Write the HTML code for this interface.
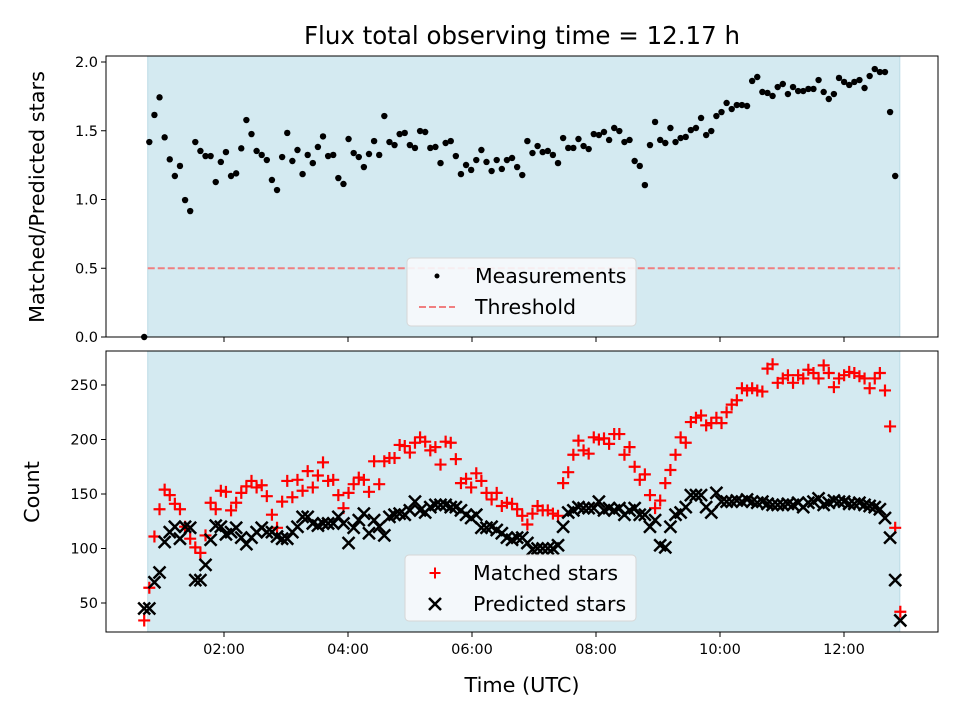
<!DOCTYPE html>
<html><head><meta charset="utf-8"><style>
body{margin:0;background:#fff;}
svg{display:block;font-family:"DejaVu Sans","Liberation Sans",sans-serif;}
</style></head><body>
<svg id="chart" width="960" height="720" viewBox="0 0 960 720" xmlns="http://www.w3.org/2000/svg">
<text x="522" y="44" font-size="24.5" text-anchor="middle">Flux total observing time = 12.17 h</text>
<g id="top"></g>
<g id="bot"></g>
<text transform="translate(44,197) rotate(-90)" font-size="20.8" text-anchor="middle">Matched/Predicted stars</text>
<text transform="translate(39,492) rotate(-90)" font-size="20.8" text-anchor="middle">Count</text>
<text x="522" y="692" font-size="20.8" text-anchor="middle">Time (UTC)</text>
</svg>
<script>
const tStart = 0.713;
const tStep = 0.0824;
const obsStart = 0.77;
const obsEnd = 12.9;
const threshold = 0.5;
const ratioValues = [0,1.418,1.615,1.743,1.452,1.292,1.171,1.244,0.996,0.916,1.418,
1.353,1.316,1.316,1.127,1.273,1.345,1.171,1.190,1.372,1.578,
1.476,1.353,1.324,1.287,1.142,1.069,1.309,1.484,1.280,1.360,
1.185,1.324,1.265,1.382,1.459,1.316,1.324,1.156,1.113,1.440,
1.338,1.309,1.236,1.331,1.425,1.324,1.607,1.418,1.396,1.476,
1.484,1.396,1.375,1.498,1.491,1.375,1.382,1.265,1.411,1.425,
1.316,1.185,1.251,1.215,1.287,1.360,1.273,1.207,1.287,1.222,
1.287,1.302,1.236,1.178,1.425,1.338,1.389,1.345,
1.353,1.324,1.265,1.447,1.375,1.375,1.440,1.389,1.367,1.476,
1.469,1.491,1.433,1.520,1.498,1.418,1.433,1.280,1.244,1.105,
1.396,1.564,1.433,1.411,1.520,1.418,1.447,1.455,1.505,1.520,
1.593,1.469,1.498,1.607,1.636,1.702,1.658,1.687,1.687,1.680,
1.862,1.891,1.782,1.775,1.753,1.818,1.840,1.767,1.818,1.789,
1.789,1.804,1.804,1.869,1.782,1.731,1.767,1.884,1.855,1.833,
1.855,1.869,1.811,1.898,1.949,1.927,1.927,1.636,1.171];
const matchedValues = [34,64,111,136,154,149,141,136,120,109,
101,96,112,142,136,153,152,135,142,151,
157,162,156,158,148,131,119,143,162,147,
163,153,171,156,167,179,162,163,149,137,
151,159,165,163,152,180,159,180,183,183,
195,194,188,197,202,198,190,193,177,198,
197,182,160,164,156,169,162,151,145,151,
139,142,141,136,130,122,132,139,135,135,
132,130,160,170,186,199,190,187,202,200,
201,196,205,205,186,193,175,163,168,149,
137,144,160,172,186,202,197,216,220,222,
213,215,220,215,225,232,236,247,
245,247,245,244,265,269,252,256,259,252,259,256,264,261,256,268,261,248,256,259,262,261,258,256,
247,256,261,245,212,119,42];
const predictedValues = [45,45,69,78,106,115,120,109,120,119,
71,71,85,108,121,120,113,115,119,110,
104,110,115,119,115,115,111,109,109,115,
120,129,129,123,121,123,123,123,129,123,
105,119,126,132,114,126,120,112,129,131,
132,131,135,143,135,133,138,140,140,140,
138,138,135,131,128,131,119,119,120,117,
114,110,108,110,110,105,99,100,100,100,
100,103,120,133,135,138,137,137,137,143,
135,137,135,137,131,135,137,131,131,120,
126,103,101,120,131,133,138,149,149,149,
138,133,151,143,143,143,144,143,
145,143,142,143,141,140,140,140,141,140,142,138,142,143,146,140,142,144,143,143,141,141,142,140,139,138,136,
128,110,71,34];
const xTickHours = [2,4,6,8,10,12];
const xTickLabels = ["02:00","04:00","06:00","08:00","10:00","12:00"];
const topTicks = [0,0.5,1.0,1.5,2.0];
const topTickLabels = ["0.0","0.5","1.0","1.5","2.0"];
const botTicks = [50,100,150,200,250];
const botTickLabels = ["50","100","150","200","250"];

const NS = "http://www.w3.org/2000/svg";
const L = 106, R = 938;
const xs = h => 100 + h * 62;
const yTop = v => 337 - v * 137.5;
const yBot = v => 603 - (v - 50) * 1.09;
function mk(tag, attrs, parent){const e=document.createElementNS(NS,tag);for(const k in attrs)e.setAttribute(k,attrs[k]);parent.appendChild(e);return e;}

function panel(g, top, bottom, ticks, labels, yf, showX, prefix){
  const bg = mk('rect',{x:xs(obsStart),y:top,width:xs(obsEnd)-xs(obsStart),height:bottom-top,fill:'#d4eaf1',stroke:'#bcdbe6','stroke-width':1},g);
  
  
  ticks.forEach((t,i)=>{
    const y=yf(t);
    const tl=mk('line',{x1:L-5,x2:L,y1:y,y2:y,stroke:'#000','stroke-width':1},g);
    
    
    const tx=mk('text',{x:L-8,y:y+5,'font-size':14.5,'text-anchor':'end'},g);
    tx.textContent=labels[i];
    
    
  });
  xTickHours.forEach((h,i)=>{
    const x=xs(h);
    const tl=mk('line',{x1:x,x2:x,y1:bottom,y2:bottom+5,stroke:'#000','stroke-width':1},g);
    
    
    if(showX){
      const tx=mk('text',{x:x,y:bottom+22,'font-size':14.5,'text-anchor':'middle'},g);
      tx.textContent=xTickLabels[i];
      
      
    }
  });
}
function frame(g, top, bottom, prefix){
  const f=mk('rect',{x:L,y:top,width:R-L,height:bottom-top,fill:'none',stroke:'#000','stroke-width':1},g);
  
  
}

const gt=document.getElementById('top');
panel(gt,56,337,topTicks,topTickLabels,yTop,false,'top');
const th=mk('line',{x1:xs(obsStart),x2:xs(obsEnd),y1:yTop(threshold),y2:yTop(threshold),stroke:'#f07f80','stroke-width':2,'stroke-dasharray':'7,3'},gt);


ratioValues.forEach((v,i)=>{
  const c=mk('circle',{cx:xs(tStart+i*tStep),cy:yTop(v),r:3.2,fill:'#000'},gt);
  
  
});
frame(gt,56,337,'top');

const gb=document.getElementById('bot');
panel(gb,351,632,botTicks,botTickLabels,yBot,true,'bottom');
const clipDef=mk('clipPath',{id:'clipb'},gb);
mk('rect',{x:L,y:351,width:R-L,height:281},clipDef);
const marks=mk('g',{'clip-path':'url(#clipb)'},gb);


matchedValues.forEach((v,i)=>{
  const x=xs(tStart+i*tStep), y=yBot(v);
  const p=mk('path',{d:`M${x-6},${y}H${x+6}M${x},${y-6}V${y+6}`,stroke:'#ff0000','stroke-width':2.2,fill:'none'},marks);
  
  
});
predictedValues.forEach((v,i)=>{
  const x=xs(tStart+i*tStep), y=yBot(v);
  const p=mk('path',{d:`M${x-6},${y-6}L${x+6},${y+6}M${x-6},${y+6}L${x+6},${y-6}`,stroke:'#000','stroke-width':2.5,fill:'none'},marks);
  
  
});
frame(gb,351,632,'bottom');

function legend(g,x,y,w,h,items,prefix){
  const box=mk('g',{},g);
  
  
  mk('rect',{x:x,y:y,width:w,height:h,rx:4,fill:'#f7fafc','fill-opacity':0.9,stroke:'#d6d6d6','stroke-width':1},box);
  items.forEach((it,i)=>{
    const cy=y+18+i*31;
    const gi=mk('g',{},box);
    
    
    const mx=x+30;
    if(it.type==='dot') mk('circle',{cx:mx,cy:cy,r:2.5,fill:'#000'},gi);
    if(it.type==='dash') mk('line',{x1:mx-18,x2:mx+18,y1:cy,y2:cy,stroke:'#f07f80','stroke-width':2,'stroke-dasharray':'7,3'},gi);
    if(it.type==='plus') mk('path',{d:`M${mx-5.5},${cy}H${mx+5.5}M${mx},${cy-5.5}V${cy+5.5}`,stroke:'#f00','stroke-width':2},gi);
    if(it.type==='x') mk('path',{d:`M${mx-6},${cy-6}L${mx+6},${cy+6}M${mx-6},${cy+6}L${mx+6},${cy-6}`,stroke:'#000','stroke-width':2.5},gi);
    const t=mk('text',{x:x+68,y:cy+7,'font-size':20.5},gi);
    t.textContent=it.label;
  });
}
legend(gt,407,258,229,68,[{type:'dot',label:'Measurements'},{type:'dash',label:'Threshold'}],'top');
legend(gb,405,555,231,66,[{type:'plus',label:'Matched stars'},{type:'x',label:'Predicted stars'}],'bottom');
</script>
</body></html>
